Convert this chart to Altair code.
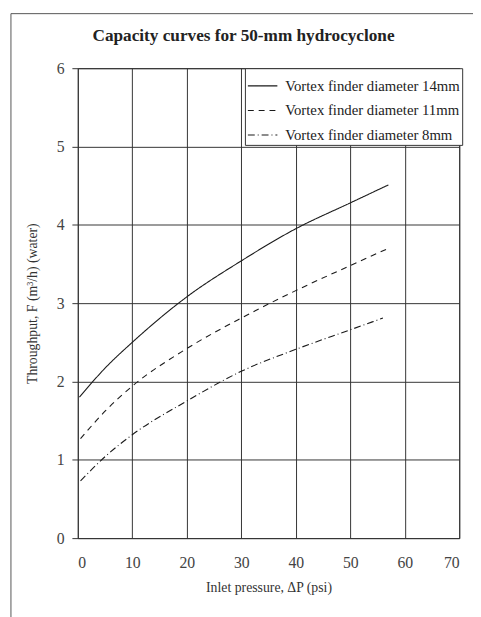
import altair as alt
import pandas as pd

series_names = ["Vortex finder diameter 14mm", "Vortex finder diameter 11mm", "Vortex finder diameter 8mm"]
pressure_14 = [0.3, 5, 10, 20, 30, 40, 50, 57]
flow_14 = [1.80, 2.17, 2.50, 3.08, 3.54, 3.95, 4.28, 4.51]
pressure_11 = [0.5, 5, 10, 20, 30, 40, 50, 57]
flow_11 = [1.27, 1.62, 1.94, 2.42, 2.81, 3.16, 3.48, 3.70]
pressure_8 = [0.5, 5, 10, 20, 30, 40, 50, 56]
flow_8 = [0.73, 1.04, 1.32, 1.75, 2.13, 2.41, 2.66, 2.81]

x_ticks = [0, 10, 20, 30, 40, 50, 60, 70]
y_ticks = [0, 1, 2, 3, 4, 5, 6]

rows = []
for name, xs, ys in zip(series_names, [pressure_14, pressure_11, pressure_8], [flow_14, flow_11, flow_8]):
    for x, y in zip(xs, ys):
        rows.append({"series": name, "pressure": x, "flow": y})
df = pd.DataFrame(rows)

SERIF = "Liberation Serif"

lines = alt.Chart(df).mark_line(color="#1a1a1a", strokeWidth=1.1, interpolate="monotone").encode(
    x=alt.X("pressure:Q", scale=alt.Scale(domain=[0, 70], nice=False),
            axis=alt.Axis(values=x_ticks, title="Inlet pressure,  ΔP  (psi)", ticks=False,
                          labelPadding=17, titlePadding=10)),
    y=alt.Y("flow:Q", scale=alt.Scale(domain=[0, 6], nice=False),
            axis=alt.Axis(values=y_ticks, title="Throughput, F (m³/h) (water)", tickSize=6,
                          labelPadding=8, titlePadding=17)),
    strokeDash=alt.StrokeDash("series:N",
                              scale=alt.Scale(domain=series_names, range=[[1, 0], [6, 5], [7, 3, 1, 3]]),
                              legend=alt.Legend(title=None)),
    order="pressure:Q",
)

frame = alt.Chart(pd.DataFrame({"a": [0]})).mark_rect(filled=False, stroke="#555", strokeWidth=1).encode(
    x=alt.value(-68), x2=alt.value(420), y=alt.value(-55.5), y2=alt.value(560)
)

chart = alt.layer(frame, lines).properties(
    width=388, height=478,
    autosize=alt.AutoSizeParams(type="none"),
    padding={"left": 71, "top": 56, "right": 14, "bottom": 75},
    background="white",
    title=alt.TitleParams("Capacity curves for 50-mm hydrocyclone", anchor="start", frame="group", dx=15,
                          font=SERIF, fontSize=17.5, fontWeight="bold", color="#222",
                          baseline="alphabetic", offset=-46),
).configure_view(stroke="#333", strokeWidth=1).configure_axis(
    grid=True, gridColor="#333", gridWidth=1, gridOpacity=1, domain=False,
    tickColor="#333", labelFont=SERIF, labelFontSize=16, labelColor="#444",
    titleFont=SERIF, titleFontSize=14, titleFontWeight="normal", titleColor="#333",
).configure_legend(
    orient="none", legendX=170, legendY=0, fillColor="white", strokeColor="#333",
    padding=2, symbolType="stroke", symbolSize=900, symbolStrokeWidth=1.1, symbolStrokeColor="#1a1a1a",
    labelFont=SERIF, labelFontSize=15, labelColor="#222", rowPadding=1, labelOffset=7, labelLimit=400,
)

chart.save("out.html", embed_options={"renderer": "svg", "actions": False})
